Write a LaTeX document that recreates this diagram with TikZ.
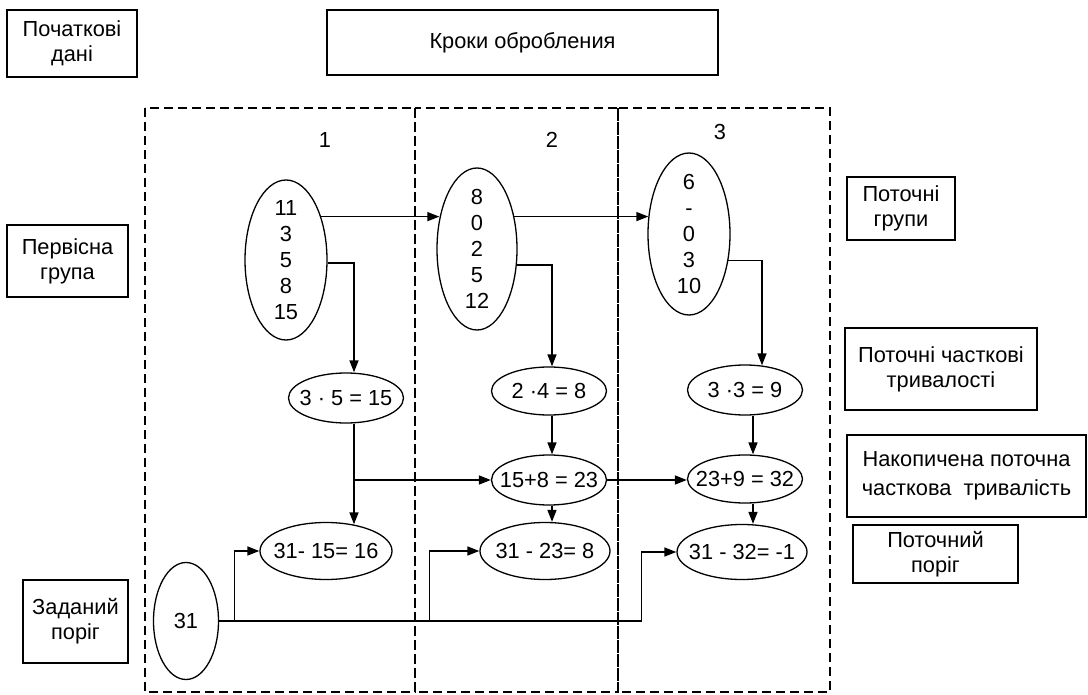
\documentclass[tikz,border=0pt]{standalone}
\usepackage{fontspec}
\setmainfont{Liberation Sans}
\usetikzlibrary{shapes.geometric,arrows.meta}
\begin{document}
\begin{tikzpicture}[x=1pt,y=-1pt,
  every node/.style={font=\fontsize{21.8}{25}\selectfont},
  box/.style={draw, line width=1.4pt, rectangle, align=center, inner sep=0pt},
  ell/.style={draw, ellipse, line width=1.3pt, inner sep=0pt},
  every label/.style={align=center, font=\fontsize{21.8}{26}\selectfont},
  arr/.style={line width=1.5pt, -{Triangle[length=12pt,width=9pt]}},
  frame/.style={line width=1.5pt, dash pattern=on 9pt off 5pt}]
\fill[white] (0,0) rectangle (1088,695);
\useasboundingbox (0,0) rectangle (1088,695);

% frames
\draw[frame] (145,108) rectangle (415,692);
\draw[frame] (415,108) rectangle (618,692);
\draw[frame] (618,108) rectangle (830,692);

% header / legend boxes
\node[box, minimum width=130pt, minimum height=67pt] (init) at (72,43.5) {Початкові\\дані};
\node[box, minimum width=391pt, minimum height=65pt] (steps) at (522.5,42.5) {Кроки обробления};
\node[box, minimum width=121pt, minimum height=72pt] (first) at (67.5,261) {Первісна\\група};
\node[box, minimum width=105pt, minimum height=83pt] (given) at (75.5,621.5) {Заданий\\поріг};
\node[box, minimum width=108pt, minimum height=63pt] (curg) at (901,208.5) {Поточні\\групи};
\node[box, minimum width=192pt, minimum height=82pt] (part) at (941,369) {Поточні часткові\\тривалості};
\node[box, minimum width=239pt, minimum height=82pt, font=\fontsize{21.8}{29}\selectfont] (acc) at (966.5,476) {Накопичена поточна\\часткова\ \ тривалість};
\node[box, minimum width=165pt, minimum height=58pt] (cthr) at (935.5,554) {Поточний\\поріг};

% column numbers
\node (n1) at (325,140) {1};
\node (n2) at (552,140) {2};
\node (n3) at (720,132) {3};

% group ellipses
\node[ell, minimum width=82pt, minimum height=160pt, label={center:{11\\3\\5\\8\\15}}] (g1) at (286,260) {};
\node[ell, minimum width=80pt, minimum height=162pt, label={center:{8\\0\\2\\5\\12}}] (g2) at (477,249) {};
\node[ell, minimum width=82pt, minimum height=162pt, label={center:{6\\-\\0\\3\\10}}] (g3) at (689,234) {};

% computation ellipses
\node[ell, minimum width=115pt, minimum height=50pt, label={center:{3 · 5 = 15}}] (p1) at (346,398) {};
\node[ell, minimum width=115pt, minimum height=48pt, label={center:{2 ·4 = 8}}] (p2) at (549,391) {};
\node[ell, minimum width=115pt, minimum height=50pt, label={center:{3 ·3 = 9}}] (p3) at (745,390) {};
\node[ell, minimum width=115pt, minimum height=50pt, label={center:{15+8 = 23}}] (s2) at (549,480) {};
\node[ell, minimum width=115pt, minimum height=48pt, label={center:{23+9 = 32}}] (s3) at (745,479) {};
\node[ell, minimum width=132pt, minimum height=57pt, label={center:{31- 15= 16}}] (q1) at (326,551) {};
\node[ell, minimum width=130pt, minimum height=57pt, label={center:{31 - 23= 8}}] (r2) at (545,551) {};
\node[ell, minimum width=130pt, minimum height=55pt, label={center:{31 - 32= -1}}] (r3) at (742,552) {};
\node[ell, minimum width=65pt, minimum height=117pt, label={center:{31}}] (t) at (186,621) {};

% group to group
\draw[arr, shorten >=-3pt] (g1.51) -- (g1.51 -| g2.west);
\draw[arr, shorten >=-1pt] (g2.41) -- (g2.41 -| g3.west);

% group to product
\draw[arr] (g1.-4) -| ([xshift=8pt]p1.north);
\draw[arr] (g2.-22) -| ([xshift=3pt]p2.north);
\draw[arr, shorten >=-1pt] (g3.-34) -| ([xshift=17pt]p3.north);

% step 1
\draw[arr, shorten >=-2.5pt] ([xshift=8pt]p1.south) -- ([xshift=8pt]p1.south |- q1.north);
\draw[arr] ([xshift=8pt]p1.south |- s2.west) -- (s2.west);

% step 2
\draw[arr] ([xshift=3pt]p2.south) -- ([xshift=3pt]p2.south |- s2.north);
\draw[arr] ([xshift=3pt]s2.south) -- ([xshift=3pt]s2.south |- r2.north);
\draw[arr] (s2.east) -- (s2.east -| s3.west);

% step 3
\draw[arr] ([xshift=8pt]p3.south) -- ([xshift=8pt]p3.south |- s3.north);
\draw[arr] ([xshift=8pt]s3.south) -- ([xshift=8pt]s3.south |- r3.north);

% threshold line
\draw[arr] (t.east) -| ([xshift=-35pt]r3.west) -- (r3.west);
\draw[arr] ([xshift=-25pt]q1.west |- t.east) -- ([xshift=-25pt]q1.west) -- (q1.west);
\draw[arr] ([xshift=-50pt]r2.west |- t.east) -- ([xshift=-50pt]r2.west) -- (r2.west);
\end{tikzpicture}
\end{document}
